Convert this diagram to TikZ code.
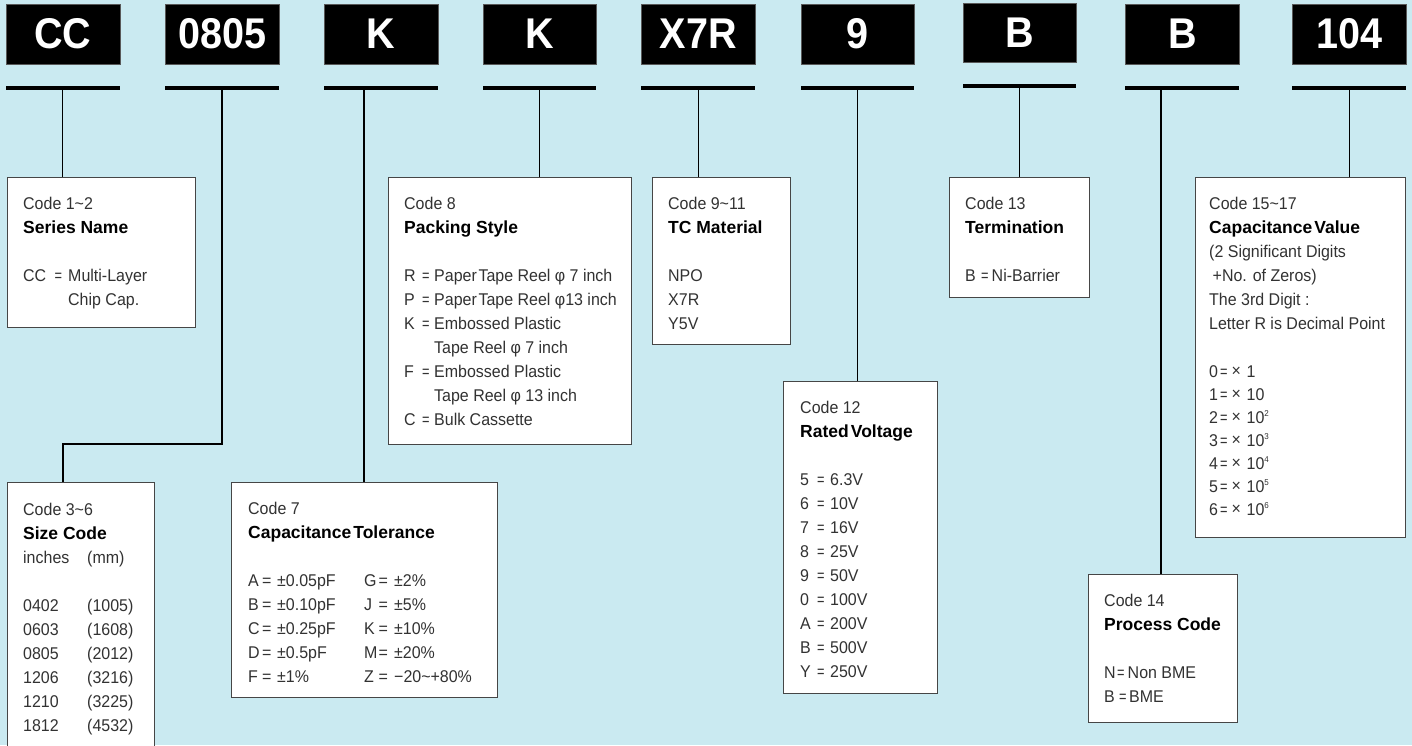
\documentclass[tikz,border=0pt]{standalone}
\usepackage{fontspec}
\setmainfont{Liberation Sans}
\newfontfamily\bodyf[FakeStretch=0.94]{Liberation Sans}
\newfontfamily\codef[FakeStretch=0.92]{Liberation Sans}
\definecolor{bg}{RGB}{202,234,241}
\definecolor{bodygray}{RGB}{50,50,50}
\definecolor{edge}{RGB}{70,70,70}
\newcommand{\hd}[1]{{\color{black}\rmfamily\bfseries\fontsize{17.5}{24}\selectfont #1}}
\newcommand{\eqs}{\scalebox{0.8}[1]{=}}
\newcommand{\tlrow}[4]{\makebox[116pt][l]{\makebox[14pt][l]{#1}\makebox[15pt][l]{=}#2}\makebox[14.5pt][l]{#3}\makebox[15.5pt][l]{=}#4}
\newcommand{\pkrow}[2]{\makebox[18pt][l]{#1}\makebox[12pt][l]{\eqs}#2}
\newcommand{\rvrow}[2]{\makebox[17pt][l]{#1}\makebox[13pt][l]{\eqs}#2}
\newcommand{\cvrow}[2]{\makebox[11pt][l]{#1}\makebox[11.5pt][l]{\eqs}\makebox[15pt][l]{\raisebox{1pt}{×}}#2}
\newcommand{\supnum}[1]{\raisebox{7pt}{\fontsize{8.5}{8.5}\selectfont #1}}
\begin{document}
\begin{tikzpicture}[x=1pt,y=-1pt,
  codebox/.style={fill=black, draw=gray!70!black, line width=0.8pt, inner sep=0pt, anchor=north west, text=white, font=\codef\bfseries\fontsize{43}{43}\selectfont},
  bar/.style={fill=black, draw=none, inner sep=0pt, anchor=north west, minimum height=4pt},
  infobox/.style={fill=white, draw=edge, line width=1.3pt, inner sep=0pt, anchor=north west},
  txt/.style={anchor=north west, inner sep=0pt, align=left, text=bodygray, font=\bodyf\fontsize{17}{24}\selectfont},
  conn/.style={draw=black, line width=1.2pt}
]
\useasboundingbox (0,0) rectangle (1412,745);
\clip (0,0) rectangle (1412,745);
\fill[bg] (0,0) rectangle (1412,745);

% header code boxes
\node[codebox, minimum width=114pt, minimum height=60.5pt] (h1) at (5.5,3.5) {CC};
\node[codebox, minimum width=113.5pt, minimum height=60.5pt] (h2) at (165,3.5) {0805};
\node[codebox, minimum width=113.5pt, minimum height=60.5pt] (h3) at (324,3.5) {K};
\node[codebox, minimum width=113pt, minimum height=60.5pt] (h4) at (483,3.5) {K};
\node[codebox, minimum width=114pt, minimum height=60.5pt] (h5) at (641,3.5) {X7R};
\node[codebox, minimum width=113.5pt, minimum height=60.5pt] (h6) at (800.5,3.5) {9};
\node[codebox, minimum width=113pt, minimum height=59.5pt] (h7) at (963,2.5) {B};
\node[codebox, minimum width=114pt, minimum height=60.5pt] (h8) at (1125,3.5) {B};
\node[codebox, minimum width=114pt, minimum height=60.5pt] (h9) at (1292,3.5) {104};

% underline bars
\node[bar, minimum width=114pt] (u1) at (5.5,85.5) {};
\node[bar, minimum width=113.5pt] (u2) at (165,85.5) {};
\node[bar, minimum width=113.5pt] (u3) at (324,85.5) {};
\node[bar, minimum width=113pt] (u4) at (483,85.5) {};
\node[bar, minimum width=114pt] (u5) at (641,85.5) {};
\node[bar, minimum width=113.5pt] (u6) at (800.5,85.5) {};
\node[bar, minimum width=113pt] (u7) at (963,84) {};
\node[bar, minimum width=114pt] (u8) at (1125,85.5) {};
\node[bar, minimum width=114pt] (u9) at (1292,85.5) {};

% description boxes
\node[infobox, minimum width=188pt, minimum height=150pt] (b1) at (7,177) {};
\node[infobox, minimum width=147pt, minimum height=290pt] (b2) at (7,482) {};
\node[infobox, minimum width=266pt, minimum height=215pt] (b3) at (231,482) {};
\node[infobox, minimum width=243pt, minimum height=267pt] (b4) at (388,177) {};
\node[infobox, minimum width=138pt, minimum height=167pt] (b5) at (652,177) {};
\node[infobox, minimum width=154pt, minimum height=312pt] (b6) at (783,381) {};
\node[infobox, minimum width=140pt, minimum height=120pt] (b7) at (949,177) {};
\node[infobox, minimum width=210pt, minimum height=360pt] (b8) at (1195,177) {};
\node[infobox, minimum width=149pt, minimum height=148pt] (b9) at (1088,574) {};

% connectors
\coordinate (k2) at (63,444);
\coordinate (c3) at (364,0);
\coordinate (c8) at (1161,0);
\draw[conn] (u1.south) -- (u1.south |- b1.north);
\draw[conn] (u2.south) |- (k2) -- (k2 |- b2.north);
\draw[conn] (c3 |- u3.south) -- (c3 |- b3.north);
\draw[conn] (u4.south) -- (u4.south |- b4.north);
\draw[conn] (u5.south) -- (u5.south |- b5.north);
\draw[conn] (u6.south) -- (u6.south |- b6.north);
\draw[conn] (u7.south) -- (u7.south |- b7.north);
\draw[conn] (c8 |- u8.south) -- (c8 |- b9.north);
\draw[conn] (u9.south) -- (u9.south |- b8.north);

% texts
\node[txt] (t1) at (23,196.6) {\rule{0pt}{12.5pt}Code 1\textasciitilde2\\ \hd{Series Name}\\[24pt]
\makebox[31.5pt][l]{CC}\makebox[13.5pt][l]{\eqs}Multi-Layer\\ \hspace*{45pt}Chip Cap.};

\node[txt] (t2) at (23,502.6) {\rule{0pt}{12.5pt}Code 3\textasciitilde6\\ \hd{Size Code}\\ \makebox[64pt][l]{inches}(mm)\\[24pt]
\makebox[64pt][l]{0402}(1005)\\ \makebox[64pt][l]{0603}(1608)\\ \makebox[64pt][l]{0805}(2012)\\
\makebox[64pt][l]{1206}(3216)\\ \makebox[64pt][l]{1210}(3225)\\ \makebox[64pt][l]{1812}(4532)};

\node[txt] (t3) at (248,501.6) {\rule{0pt}{12.5pt}Code 7\\ \hd{Capacitance\hspace{0.12em}Tolerance}\\[24pt]
\tlrow{A}{±0.05pF}{G}{±2\%}\\ \tlrow{B}{±0.10pF}{J}{±5\%}\\ \tlrow{C}{±0.25pF}{K}{±10\%}\\
\tlrow{D}{±0.5pF}{M}{±20\%}\\ \tlrow{F}{±1\%}{Z}{−20\textasciitilde+80\%}};

\node[txt] (t4) at (404,196.6) {\rule{0pt}{12.5pt}Code 8\\ \hd{Packing Style}\\[24pt]
\pkrow{R}{Paper\hspace{0.1em}Tape Reel φ 7 inch}\\ \pkrow{P}{Paper\hspace{0.1em}Tape Reel φ13 inch}\\
\pkrow{K}{Embossed Plastic}\\ \hspace*{30pt}Tape Reel φ 7 inch\\
\pkrow{F}{Embossed Plastic}\\ \hspace*{30pt}Tape Reel φ 13 inch\\ \pkrow{C}{Bulk Cassette}};

\node[txt] (t5) at (668,196.6) {\rule{0pt}{12.5pt}Code 9\textasciitilde11\\ \hd{TC Material}\\[24pt] NPO\\ X7R\\ Y5V};

\node[txt] (t6) at (800,400.6) {\rule{0pt}{12.5pt}Code 12\\ \hd{Rated\hspace{0.12em}Voltage}\\[24pt]
\rvrow{5}{6.3V}\\ \rvrow{6}{10V}\\ \rvrow{7}{16V}\\ \rvrow{8}{25V}\\ \rvrow{9}{50V}\\
\rvrow{0}{100V}\\ \rvrow{A}{200V}\\ \rvrow{B}{500V}\\ \rvrow{Y}{250V}};

\node[txt] (t7) at (965,196.6) {\rule{0pt}{12.5pt}Code 13\\ \hd{Termination}\\[24pt]
\makebox[16pt][l]{B}\makebox[10.5pt][l]{\eqs}Ni-Barrier};

\node[txt] (t8) at (1209,196.6) {\rule{0pt}{12.5pt}Code 15\textasciitilde17\\ \hd{Capacitance\hspace{0.12em}Value}\\
(2 Significant Digits\\ \hspace*{3.5pt}+No. of Zeros)\\ The 3rd Digit :\\ Letter R is Decimal Point\\[24pt]
\cvrow{0}{1}\\[-1pt] \cvrow{1}{10}\\[-1pt] \cvrow{2}{10\supnum{2}}\\[-1pt] \cvrow{3}{10\supnum{3}}\\[-1pt]
\cvrow{4}{10\supnum{4}}\\[-1pt] \cvrow{5}{10\supnum{5}}\\[-1pt] \cvrow{6}{10\supnum{6}}};

\node[txt] (t9) at (1104,593.6) {\rule{0pt}{12.5pt}Code 14\\ \hd{Process Code}\\[24pt]
\makebox[13pt][l]{N}\makebox[10.5pt][l]{\eqs}Non BME\\ \makebox[15pt][l]{B}\makebox[10pt][l]{\eqs}BME};
\end{tikzpicture}
\end{document}
